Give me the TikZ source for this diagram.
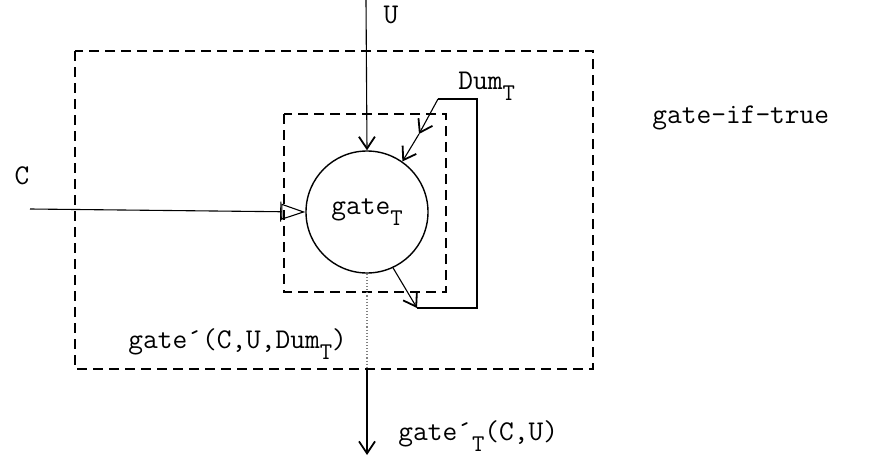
\documentclass[tikz,border=0pt]{standalone}
\usepackage{fontspec}
\usetikzlibrary{arrows.meta,positioning}
\newcommand{\subT}{\raisebox{-0.9ex}{\fontsize{12}{12}\selectfont T}}

\begin{document}
\begin{tikzpicture}[x=0.5pt,y=-0.5pt,>={Straight Barb[length=6pt,width=8pt,line width=0.9pt]},
  every node/.style={font=\ttfamily\fontsize{14.3}{16}\selectfont,inner sep=0pt},
  boxline/.style={line width=0.9pt,dash pattern=on 5pt off 3pt},
  wire/.style={line width=0.55pt}]
\useasboundingbox (0,0) rectangle (890,466);
% boxes
\draw[boxline] (75,51) rectangle (593,369);
\draw[boxline] (284,114) rectangle (446,292);
\node[draw,circle,minimum size=61pt,line width=0.7pt] (gate) at (367,212) {gate\subT};
% labels
\node (u) at (391,15) {U};
\node (c) at (22,176) {C};
\node[anchor=west] (dum) at (458,86) {Dum\subT};
\node[anchor=west] (iftrue) at (652,118) {gate-if-true};
\node[anchor=west] (inner) at (128,344) {gate´(C,U,Dum\subT)};
\node[anchor=west] (out) at (398,436) {gate´\subT(C,U)};
% connectors
\coordinate (uin) at (366,0);
\coordinate (cin) at (30,209);
\coordinate (outend) at (367,455);
\coordinate (outbox) at (367,369);
\coordinate (lp1) at (417,308);
\coordinate (lp2) at (477,308);
\coordinate (lp3) at (477,99);
\coordinate (lp4) at (438,99);
\coordinate (lpmid) at (419,134);
\draw[wire,->] (uin)--(gate.north);
\draw[wire,-{Bar[width=10pt]Triangle[open,length=12pt,width=8pt]}] (cin)--(gate.west);
\draw[wire,densely dotted,gray] (gate.south)--(outbox);
\draw[wire,->] (outbox)--(outend);
\draw[wire,->] (gate.-65)--(lp1);
\draw[wire] (lp1)--(lp2)--(lp3)--(lp4);
\draw[wire,->] (lp4)--(lpmid);
\draw[wire,->] (lpmid)--(gate.55);
\end{tikzpicture}
\end{document}
